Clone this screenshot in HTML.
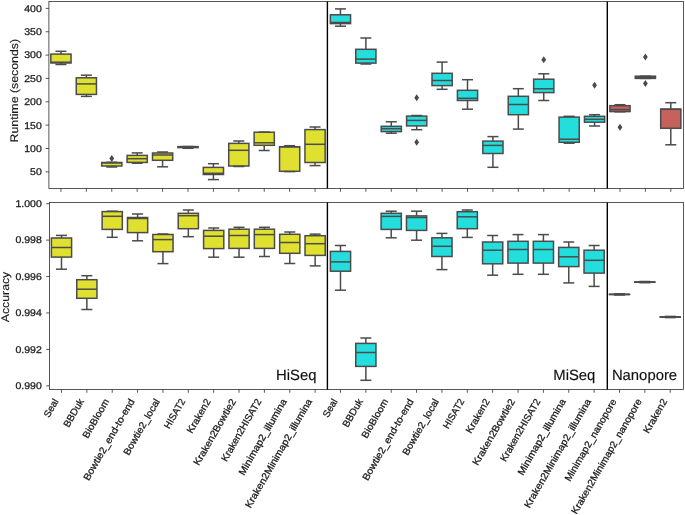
<!DOCTYPE html>
<html><head><meta charset="utf-8"><title>Runtime and accuracy</title>
<style>
html,body{margin:0;padding:0;background:#fff;}
body{width:685px;height:515px;overflow:hidden;font-family:"Liberation Sans",sans-serif;}
svg{display:block;text-rendering:geometricPrecision;filter:blur(0.4px);}
.o{fill:#4b4b4b;stroke:none;}
</style></head>
<body>
<svg width="685" height="515" viewBox="0 0 685 515">
<rect width="685" height="515" fill="#fff"/>
<g stroke="#4b4b4b" stroke-width="1.5" fill="none">
<rect x="50.85" y="54.1" width="20.2" height="8.9" fill="#e0e030"/>
<line x1="60.95" y1="51.3" x2="60.95" y2="54.1"/>
<line x1="60.95" y1="63" x2="60.95" y2="64.5"/>
<line x1="55.45" y1="51.3" x2="66.45" y2="51.3"/>
<line x1="55.45" y1="64.5" x2="66.45" y2="64.5"/>
<line x1="50.85" y1="62.2" x2="71.05" y2="62.2"/>
<rect x="76.26" y="77.8" width="20.2" height="16.6" fill="#e0e030"/>
<line x1="86.36" y1="75.2" x2="86.36" y2="77.8"/>
<line x1="86.36" y1="94.4" x2="86.36" y2="96.4"/>
<line x1="80.86" y1="75.2" x2="91.86" y2="75.2"/>
<line x1="80.86" y1="96.4" x2="91.86" y2="96.4"/>
<line x1="76.26" y1="83.9" x2="96.46" y2="83.9"/>
<rect x="101.67" y="162.5" width="20.2" height="3.5" fill="#e0e030"/>
<line x1="111.77" y1="162.3" x2="111.77" y2="162.5"/>
<line x1="111.77" y1="166" x2="111.77" y2="167"/>
<line x1="106.27" y1="162.3" x2="117.27" y2="162.3"/>
<line x1="106.27" y1="167" x2="117.27" y2="167"/>
<line x1="101.67" y1="162.9" x2="121.87" y2="162.9"/>
<path class="o" d="M111.77 154.9L114.17 158.4L111.77 161.9L109.37 158.4Z"/>
<rect x="127.08" y="155.4" width="20.2" height="7" fill="#e0e030"/>
<line x1="137.18" y1="152.9" x2="137.18" y2="155.4"/>
<line x1="137.18" y1="162.4" x2="137.18" y2="163.2"/>
<line x1="131.68" y1="152.9" x2="142.68" y2="152.9"/>
<line x1="131.68" y1="163.2" x2="142.68" y2="163.2"/>
<line x1="127.08" y1="158.7" x2="147.28" y2="158.7"/>
<rect x="152.49" y="153" width="20.2" height="7.3" fill="#e0e030"/>
<line x1="162.59" y1="152" x2="162.59" y2="153"/>
<line x1="162.59" y1="160.3" x2="162.59" y2="166.8"/>
<line x1="157.09" y1="152" x2="168.09" y2="152"/>
<line x1="157.09" y1="166.8" x2="168.09" y2="166.8"/>
<line x1="152.49" y1="155" x2="172.69" y2="155"/>
<rect x="177.9" y="146.6" width="20.2" height="1" fill="#e0e030"/>
<line x1="188" y1="146.5" x2="188" y2="146.6"/>
<line x1="188" y1="147.6" x2="188" y2="148.3"/>
<line x1="182.5" y1="146.5" x2="193.5" y2="146.5"/>
<line x1="182.5" y1="148.3" x2="193.5" y2="148.3"/>
<line x1="177.9" y1="147" x2="198.1" y2="147"/>
<rect x="203.31" y="167.4" width="20.2" height="7.1" fill="#e0e030"/>
<line x1="213.41" y1="163.7" x2="213.41" y2="167.4"/>
<line x1="213.41" y1="174.5" x2="213.41" y2="179.6"/>
<line x1="207.91" y1="163.7" x2="218.91" y2="163.7"/>
<line x1="207.91" y1="179.6" x2="218.91" y2="179.6"/>
<line x1="203.31" y1="173.3" x2="223.51" y2="173.3"/>
<rect x="228.72" y="143.4" width="20.2" height="22.6" fill="#e0e030"/>
<line x1="238.82" y1="141" x2="238.82" y2="143.4"/>
<line x1="238.82" y1="166" x2="238.82" y2="166.5"/>
<line x1="233.32" y1="141" x2="244.32" y2="141"/>
<line x1="233.32" y1="166.5" x2="244.32" y2="166.5"/>
<line x1="228.72" y1="150.3" x2="248.92" y2="150.3"/>
<rect x="254.13" y="132.2" width="20.2" height="13.1" fill="#e0e030"/>
<line x1="264.23" y1="132.1" x2="264.23" y2="132.2"/>
<line x1="264.23" y1="145.3" x2="264.23" y2="150.5"/>
<line x1="258.73" y1="132.1" x2="269.73" y2="132.1"/>
<line x1="258.73" y1="150.5" x2="269.73" y2="150.5"/>
<line x1="254.13" y1="142.8" x2="274.33" y2="142.8"/>
<rect x="279.54" y="146.7" width="20.2" height="24.6" fill="#e0e030"/>
<line x1="289.64" y1="145.7" x2="289.64" y2="146.7"/>
<line x1="289.64" y1="171.3" x2="289.64" y2="171.6"/>
<line x1="284.14" y1="145.7" x2="295.14" y2="145.7"/>
<line x1="284.14" y1="171.6" x2="295.14" y2="171.6"/>
<line x1="279.54" y1="146.9" x2="299.74" y2="146.9"/>
<rect x="304.95" y="129.6" width="20.2" height="32.9" fill="#e0e030"/>
<line x1="315.05" y1="127" x2="315.05" y2="129.6"/>
<line x1="315.05" y1="162.5" x2="315.05" y2="165.6"/>
<line x1="309.55" y1="127" x2="320.55" y2="127"/>
<line x1="309.55" y1="165.6" x2="320.55" y2="165.6"/>
<line x1="304.95" y1="144.3" x2="325.15" y2="144.3"/>
<rect x="330.36" y="14.8" width="20.2" height="8.8" fill="#24dede"/>
<line x1="340.46" y1="8.9" x2="340.46" y2="14.8"/>
<line x1="340.46" y1="23.6" x2="340.46" y2="26.2"/>
<line x1="334.96" y1="8.9" x2="345.96" y2="8.9"/>
<line x1="334.96" y1="26.2" x2="345.96" y2="26.2"/>
<line x1="330.36" y1="22.5" x2="350.56" y2="22.5"/>
<rect x="355.77" y="49.3" width="20.2" height="13.8" fill="#24dede"/>
<line x1="365.87" y1="38" x2="365.87" y2="49.3"/>
<line x1="365.87" y1="63.1" x2="365.87" y2="64"/>
<line x1="360.37" y1="38" x2="371.37" y2="38"/>
<line x1="360.37" y1="64" x2="371.37" y2="64"/>
<line x1="355.77" y1="59.1" x2="375.97" y2="59.1"/>
<rect x="381.18" y="126.3" width="20.2" height="5.3" fill="#24dede"/>
<line x1="391.28" y1="121.8" x2="391.28" y2="126.3"/>
<line x1="391.28" y1="131.6" x2="391.28" y2="133.2"/>
<line x1="385.78" y1="121.8" x2="396.78" y2="121.8"/>
<line x1="385.78" y1="133.2" x2="396.78" y2="133.2"/>
<line x1="381.18" y1="128.7" x2="401.38" y2="128.7"/>
<rect x="406.59" y="116.1" width="20.2" height="9.8" fill="#24dede"/>
<line x1="416.69" y1="115.5" x2="416.69" y2="116.1"/>
<line x1="416.69" y1="125.9" x2="416.69" y2="129.7"/>
<line x1="411.19" y1="115.5" x2="422.19" y2="115.5"/>
<line x1="411.19" y1="129.7" x2="422.19" y2="129.7"/>
<line x1="406.59" y1="120.4" x2="426.79" y2="120.4"/>
<path class="o" d="M416.69 94.2L419.09 97.7L416.69 101.2L414.29 97.7Z"/>
<path class="o" d="M416.69 138.8L419.09 142.3L416.69 145.8L414.29 142.3Z"/>
<rect x="432" y="73.3" width="20.2" height="12.3" fill="#24dede"/>
<line x1="442.1" y1="62.1" x2="442.1" y2="73.3"/>
<line x1="442.1" y1="85.6" x2="442.1" y2="89.3"/>
<line x1="436.6" y1="62.1" x2="447.6" y2="62.1"/>
<line x1="436.6" y1="89.3" x2="447.6" y2="89.3"/>
<line x1="432" y1="80.5" x2="452.2" y2="80.5"/>
<rect x="457.41" y="90.3" width="20.2" height="10.2" fill="#24dede"/>
<line x1="467.51" y1="79.7" x2="467.51" y2="90.3"/>
<line x1="467.51" y1="100.5" x2="467.51" y2="109.2"/>
<line x1="462.01" y1="79.7" x2="473.01" y2="79.7"/>
<line x1="462.01" y1="109.2" x2="473.01" y2="109.2"/>
<line x1="457.41" y1="98.3" x2="477.61" y2="98.3"/>
<rect x="482.82" y="141.1" width="20.2" height="12.4" fill="#24dede"/>
<line x1="492.92" y1="136.6" x2="492.92" y2="141.1"/>
<line x1="492.92" y1="153.5" x2="492.92" y2="167.3"/>
<line x1="487.42" y1="136.6" x2="498.42" y2="136.6"/>
<line x1="487.42" y1="167.3" x2="498.42" y2="167.3"/>
<line x1="482.82" y1="145.4" x2="503.02" y2="145.4"/>
<rect x="508.23" y="96.3" width="20.2" height="18.4" fill="#24dede"/>
<line x1="518.33" y1="88.7" x2="518.33" y2="96.3"/>
<line x1="518.33" y1="114.7" x2="518.33" y2="129.1"/>
<line x1="512.83" y1="88.7" x2="523.83" y2="88.7"/>
<line x1="512.83" y1="129.1" x2="523.83" y2="129.1"/>
<line x1="508.23" y1="104.5" x2="528.43" y2="104.5"/>
<rect x="533.64" y="79.2" width="20.2" height="13.4" fill="#24dede"/>
<line x1="543.74" y1="73.8" x2="543.74" y2="79.2"/>
<line x1="543.74" y1="92.6" x2="543.74" y2="100.5"/>
<line x1="538.24" y1="73.8" x2="549.24" y2="73.8"/>
<line x1="538.24" y1="100.5" x2="549.24" y2="100.5"/>
<line x1="533.64" y1="88.8" x2="553.84" y2="88.8"/>
<path class="o" d="M543.74 56.3L546.14 59.8L543.74 63.3L541.34 59.8Z"/>
<rect x="559.05" y="117.1" width="20.2" height="25.2" fill="#24dede"/>
<line x1="569.15" y1="116.3" x2="569.15" y2="117.1"/>
<line x1="569.15" y1="142.3" x2="569.15" y2="143.2"/>
<line x1="563.65" y1="116.3" x2="574.65" y2="116.3"/>
<line x1="563.65" y1="143.2" x2="574.65" y2="143.2"/>
<line x1="559.05" y1="139.2" x2="579.25" y2="139.2"/>
<rect x="584.46" y="116.3" width="20.2" height="5.9" fill="#24dede"/>
<line x1="594.56" y1="114.7" x2="594.56" y2="116.3"/>
<line x1="594.56" y1="122.2" x2="594.56" y2="126"/>
<line x1="589.06" y1="114.7" x2="600.06" y2="114.7"/>
<line x1="589.06" y1="126" x2="600.06" y2="126"/>
<line x1="584.46" y1="119.3" x2="604.66" y2="119.3"/>
<path class="o" d="M594.56 81.7L596.96 85.2L594.56 88.7L592.16 85.2Z"/>
<rect x="609.87" y="105.7" width="20.2" height="5.9" fill="#c6625b"/>
<line x1="619.97" y1="104.7" x2="619.97" y2="105.7"/>
<line x1="619.97" y1="111.6" x2="619.97" y2="111.8"/>
<line x1="614.47" y1="104.7" x2="625.47" y2="104.7"/>
<line x1="614.47" y1="111.8" x2="625.47" y2="111.8"/>
<line x1="609.87" y1="109.6" x2="630.07" y2="109.6"/>
<path class="o" d="M619.97 123.8L622.37 127.3L619.97 130.8L617.57 127.3Z"/>
<rect x="635.28" y="76.2" width="20.2" height="2.2" fill="#c6625b"/>
<line x1="645.38" y1="76.2" x2="645.38" y2="76.2"/>
<line x1="645.38" y1="78.4" x2="645.38" y2="78.4"/>
<line x1="639.88" y1="76.2" x2="650.88" y2="76.2"/>
<line x1="639.88" y1="78.4" x2="650.88" y2="78.4"/>
<line x1="635.28" y1="77.3" x2="655.48" y2="77.3"/>
<path class="o" d="M645.38 53.6L647.78 57.1L645.38 60.6L642.98 57.1Z"/>
<path class="o" d="M645.38 80.1L647.78 83.6L645.38 87.1L642.98 83.6Z"/>
<rect x="660.69" y="109.1" width="20.2" height="19.2" fill="#c6625b"/>
<line x1="670.79" y1="102.7" x2="670.79" y2="109.1"/>
<line x1="670.79" y1="128.3" x2="670.79" y2="144.8"/>
<line x1="665.29" y1="102.7" x2="676.29" y2="102.7"/>
<line x1="665.29" y1="144.8" x2="676.29" y2="144.8"/>
<line x1="660.69" y1="109.3" x2="680.89" y2="109.3"/>
<rect x="51.4" y="238" width="20.2" height="19.1" fill="#e0e030"/>
<line x1="61.5" y1="235.4" x2="61.5" y2="238"/>
<line x1="61.5" y1="257.1" x2="61.5" y2="269.2"/>
<line x1="56" y1="235.4" x2="67" y2="235.4"/>
<line x1="56" y1="269.2" x2="67" y2="269.2"/>
<line x1="51.4" y1="247.5" x2="71.6" y2="247.5"/>
<rect x="76.76" y="279.7" width="20.2" height="18.6" fill="#e0e030"/>
<line x1="86.86" y1="275.7" x2="86.86" y2="279.7"/>
<line x1="86.86" y1="298.3" x2="86.86" y2="309.5"/>
<line x1="81.36" y1="275.7" x2="92.36" y2="275.7"/>
<line x1="81.36" y1="309.5" x2="92.36" y2="309.5"/>
<line x1="76.76" y1="289.2" x2="96.96" y2="289.2"/>
<rect x="102.13" y="211.6" width="20.2" height="17.8" fill="#e0e030"/>
<line x1="112.23" y1="211.2" x2="112.23" y2="211.6"/>
<line x1="112.23" y1="229.4" x2="112.23" y2="237.3"/>
<line x1="106.73" y1="211.2" x2="117.73" y2="211.2"/>
<line x1="106.73" y1="237.3" x2="117.73" y2="237.3"/>
<line x1="102.13" y1="216.3" x2="122.33" y2="216.3"/>
<rect x="127.49" y="217.5" width="20.2" height="15.1" fill="#e0e030"/>
<line x1="137.59" y1="214" x2="137.59" y2="217.5"/>
<line x1="137.59" y1="232.6" x2="137.59" y2="240.8"/>
<line x1="132.09" y1="214" x2="143.09" y2="214"/>
<line x1="132.09" y1="240.8" x2="143.09" y2="240.8"/>
<line x1="127.49" y1="218.5" x2="147.69" y2="218.5"/>
<rect x="152.85" y="234.5" width="20.2" height="17.2" fill="#e0e030"/>
<line x1="162.95" y1="234" x2="162.95" y2="234.5"/>
<line x1="162.95" y1="251.7" x2="162.95" y2="263.6"/>
<line x1="157.45" y1="234" x2="168.45" y2="234"/>
<line x1="157.45" y1="263.6" x2="168.45" y2="263.6"/>
<line x1="152.85" y1="239.6" x2="173.05" y2="239.6"/>
<rect x="178.22" y="213.3" width="20.2" height="15.4" fill="#e0e030"/>
<line x1="188.31" y1="210" x2="188.31" y2="213.3"/>
<line x1="188.31" y1="228.7" x2="188.31" y2="236.7"/>
<line x1="182.81" y1="210" x2="193.81" y2="210"/>
<line x1="182.81" y1="236.7" x2="193.81" y2="236.7"/>
<line x1="178.22" y1="215.7" x2="198.41" y2="215.7"/>
<rect x="203.58" y="230.4" width="20.2" height="18.2" fill="#e0e030"/>
<line x1="213.68" y1="228" x2="213.68" y2="230.4"/>
<line x1="213.68" y1="248.6" x2="213.68" y2="257.2"/>
<line x1="208.18" y1="228" x2="219.18" y2="228"/>
<line x1="208.18" y1="257.2" x2="219.18" y2="257.2"/>
<line x1="203.58" y1="236.2" x2="223.78" y2="236.2"/>
<rect x="228.94" y="229.2" width="20.2" height="19.2" fill="#e0e030"/>
<line x1="239.04" y1="227.3" x2="239.04" y2="229.2"/>
<line x1="239.04" y1="248.4" x2="239.04" y2="257.2"/>
<line x1="233.54" y1="227.3" x2="244.54" y2="227.3"/>
<line x1="233.54" y1="257.2" x2="244.54" y2="257.2"/>
<line x1="228.94" y1="235.5" x2="249.14" y2="235.5"/>
<rect x="254.3" y="229.2" width="20.2" height="19.2" fill="#e0e030"/>
<line x1="264.4" y1="227.3" x2="264.4" y2="229.2"/>
<line x1="264.4" y1="248.4" x2="264.4" y2="256.5"/>
<line x1="258.9" y1="227.3" x2="269.9" y2="227.3"/>
<line x1="258.9" y1="256.5" x2="269.9" y2="256.5"/>
<line x1="254.3" y1="234.6" x2="274.5" y2="234.6"/>
<rect x="279.67" y="234.3" width="20.2" height="19" fill="#e0e030"/>
<line x1="289.77" y1="232" x2="289.77" y2="234.3"/>
<line x1="289.77" y1="253.3" x2="289.77" y2="263.5"/>
<line x1="284.27" y1="232" x2="295.27" y2="232"/>
<line x1="284.27" y1="263.5" x2="295.27" y2="263.5"/>
<line x1="279.67" y1="242.5" x2="299.87" y2="242.5"/>
<rect x="305.03" y="235.7" width="20.2" height="19.7" fill="#e0e030"/>
<line x1="315.13" y1="234.1" x2="315.13" y2="235.7"/>
<line x1="315.13" y1="255.4" x2="315.13" y2="265.9"/>
<line x1="309.63" y1="234.1" x2="320.63" y2="234.1"/>
<line x1="309.63" y1="265.9" x2="320.63" y2="265.9"/>
<line x1="305.03" y1="243.7" x2="325.23" y2="243.7"/>
<rect x="330.39" y="251.4" width="20.2" height="19.8" fill="#24dede"/>
<line x1="340.49" y1="245.5" x2="340.49" y2="251.4"/>
<line x1="340.49" y1="271.2" x2="340.49" y2="290.2"/>
<line x1="334.99" y1="245.5" x2="345.99" y2="245.5"/>
<line x1="334.99" y1="290.2" x2="345.99" y2="290.2"/>
<line x1="330.39" y1="261.9" x2="350.59" y2="261.9"/>
<rect x="355.76" y="343.4" width="20.2" height="23" fill="#24dede"/>
<line x1="365.86" y1="338" x2="365.86" y2="343.4"/>
<line x1="365.86" y1="366.4" x2="365.86" y2="380.3"/>
<line x1="360.36" y1="338" x2="371.36" y2="338"/>
<line x1="360.36" y1="380.3" x2="371.36" y2="380.3"/>
<line x1="355.76" y1="352.5" x2="375.96" y2="352.5"/>
<rect x="381.12" y="213.3" width="20.2" height="16.1" fill="#24dede"/>
<line x1="391.22" y1="211.2" x2="391.22" y2="213.3"/>
<line x1="391.22" y1="229.4" x2="391.22" y2="237.8"/>
<line x1="385.72" y1="211.2" x2="396.72" y2="211.2"/>
<line x1="385.72" y1="237.8" x2="396.72" y2="237.8"/>
<line x1="381.12" y1="216.4" x2="401.32" y2="216.4"/>
<rect x="406.48" y="215.9" width="20.2" height="14.5" fill="#24dede"/>
<line x1="416.58" y1="211.2" x2="416.58" y2="215.9"/>
<line x1="416.58" y1="230.4" x2="416.58" y2="240.2"/>
<line x1="411.08" y1="211.2" x2="422.08" y2="211.2"/>
<line x1="411.08" y1="240.2" x2="422.08" y2="240.2"/>
<line x1="406.48" y1="217.5" x2="426.68" y2="217.5"/>
<rect x="431.84" y="237.8" width="20.2" height="18.7" fill="#24dede"/>
<line x1="441.94" y1="233.4" x2="441.94" y2="237.8"/>
<line x1="441.94" y1="256.5" x2="441.94" y2="269.6"/>
<line x1="436.44" y1="233.4" x2="447.44" y2="233.4"/>
<line x1="436.44" y1="269.6" x2="447.44" y2="269.6"/>
<line x1="431.84" y1="246.3" x2="452.04" y2="246.3"/>
<rect x="457.21" y="211.7" width="20.2" height="17" fill="#24dede"/>
<line x1="467.31" y1="210" x2="467.31" y2="211.7"/>
<line x1="467.31" y1="228.7" x2="467.31" y2="237.4"/>
<line x1="461.81" y1="210" x2="472.81" y2="210"/>
<line x1="461.81" y1="237.4" x2="472.81" y2="237.4"/>
<line x1="457.21" y1="216.8" x2="477.41" y2="216.8"/>
<rect x="482.57" y="242" width="20.2" height="21.8" fill="#24dede"/>
<line x1="492.67" y1="235.5" x2="492.67" y2="242"/>
<line x1="492.67" y1="263.8" x2="492.67" y2="275.2"/>
<line x1="487.17" y1="235.5" x2="498.17" y2="235.5"/>
<line x1="487.17" y1="275.2" x2="498.17" y2="275.2"/>
<line x1="482.57" y1="250.2" x2="502.77" y2="250.2"/>
<rect x="507.93" y="241.3" width="20.2" height="21.8" fill="#24dede"/>
<line x1="518.03" y1="234.6" x2="518.03" y2="241.3"/>
<line x1="518.03" y1="263.1" x2="518.03" y2="274.3"/>
<line x1="512.53" y1="234.6" x2="523.53" y2="234.6"/>
<line x1="512.53" y1="274.3" x2="523.53" y2="274.3"/>
<line x1="507.93" y1="249.5" x2="528.13" y2="249.5"/>
<rect x="533.3" y="241.3" width="20.2" height="21.8" fill="#24dede"/>
<line x1="543.4" y1="234.6" x2="543.4" y2="241.3"/>
<line x1="543.4" y1="263.1" x2="543.4" y2="274.3"/>
<line x1="537.9" y1="234.6" x2="548.9" y2="234.6"/>
<line x1="537.9" y1="274.3" x2="548.9" y2="274.3"/>
<line x1="533.3" y1="249.5" x2="553.5" y2="249.5"/>
<rect x="558.66" y="247.4" width="20.2" height="19.2" fill="#24dede"/>
<line x1="568.76" y1="242" x2="568.76" y2="247.4"/>
<line x1="568.76" y1="266.6" x2="568.76" y2="282.9"/>
<line x1="563.26" y1="242" x2="574.26" y2="242"/>
<line x1="563.26" y1="282.9" x2="574.26" y2="282.9"/>
<line x1="558.66" y1="256.8" x2="578.86" y2="256.8"/>
<rect x="584.02" y="250.2" width="20.2" height="22.9" fill="#24dede"/>
<line x1="594.12" y1="245.5" x2="594.12" y2="250.2"/>
<line x1="594.12" y1="273.1" x2="594.12" y2="286.4"/>
<line x1="588.62" y1="245.5" x2="599.62" y2="245.5"/>
<line x1="588.62" y1="286.4" x2="599.62" y2="286.4"/>
<line x1="584.02" y1="260.3" x2="604.22" y2="260.3"/>
<rect x="609.39" y="294.25" width="20.2" height="0.3" fill="#c6625b"/>
<line x1="619.49" y1="293.8" x2="619.49" y2="294.25"/>
<line x1="619.49" y1="294.55" x2="619.49" y2="295"/>
<line x1="613.99" y1="293.8" x2="624.99" y2="293.8"/>
<line x1="613.99" y1="295" x2="624.99" y2="295"/>
<line x1="609.39" y1="294.4" x2="629.59" y2="294.4"/>
<rect x="634.75" y="281.95" width="20.2" height="0.3" fill="#c6625b"/>
<line x1="644.85" y1="281.5" x2="644.85" y2="281.95"/>
<line x1="644.85" y1="282.25" x2="644.85" y2="282.7"/>
<line x1="639.35" y1="281.5" x2="650.35" y2="281.5"/>
<line x1="639.35" y1="282.7" x2="650.35" y2="282.7"/>
<line x1="634.75" y1="282.1" x2="654.95" y2="282.1"/>
<rect x="660.11" y="316.85" width="20.2" height="0.3" fill="#c6625b"/>
<line x1="670.21" y1="316.4" x2="670.21" y2="316.85"/>
<line x1="670.21" y1="317.15" x2="670.21" y2="317.6"/>
<line x1="664.71" y1="316.4" x2="675.71" y2="316.4"/>
<line x1="664.71" y1="317.6" x2="675.71" y2="317.6"/>
<line x1="660.11" y1="317" x2="680.31" y2="317"/>
</g>
<g stroke="#2e2e2e" stroke-width="0.8" fill="none">
<rect x="48.9" y="1.5" width="634.5" height="187"/>
<rect x="49.5" y="202.5" width="633.9" height="187"/>
<line x1="45.6" y1="8.4" x2="48.9" y2="8.4"/>
<line x1="45.6" y1="31.75" x2="48.9" y2="31.75"/>
<line x1="45.6" y1="55.1" x2="48.9" y2="55.1"/>
<line x1="45.6" y1="78.45" x2="48.9" y2="78.45"/>
<line x1="45.6" y1="101.8" x2="48.9" y2="101.8"/>
<line x1="45.6" y1="125.15" x2="48.9" y2="125.15"/>
<line x1="45.6" y1="148.5" x2="48.9" y2="148.5"/>
<line x1="45.6" y1="171.85" x2="48.9" y2="171.85"/>
<line x1="46.2" y1="203.7" x2="49.5" y2="203.7"/>
<line x1="46.2" y1="240.12" x2="49.5" y2="240.12"/>
<line x1="46.2" y1="276.54" x2="49.5" y2="276.54"/>
<line x1="46.2" y1="312.96" x2="49.5" y2="312.96"/>
<line x1="46.2" y1="349.38" x2="49.5" y2="349.38"/>
<line x1="46.2" y1="385.8" x2="49.5" y2="385.8"/>
<line x1="60.95" y1="188.5" x2="60.95" y2="191.8"/>
<line x1="61.5" y1="389.5" x2="61.5" y2="392.8"/>
<line x1="86.36" y1="188.5" x2="86.36" y2="191.8"/>
<line x1="86.86" y1="389.5" x2="86.86" y2="392.8"/>
<line x1="111.77" y1="188.5" x2="111.77" y2="191.8"/>
<line x1="112.23" y1="389.5" x2="112.23" y2="392.8"/>
<line x1="137.18" y1="188.5" x2="137.18" y2="191.8"/>
<line x1="137.59" y1="389.5" x2="137.59" y2="392.8"/>
<line x1="162.59" y1="188.5" x2="162.59" y2="191.8"/>
<line x1="162.95" y1="389.5" x2="162.95" y2="392.8"/>
<line x1="188" y1="188.5" x2="188" y2="191.8"/>
<line x1="188.31" y1="389.5" x2="188.31" y2="392.8"/>
<line x1="213.41" y1="188.5" x2="213.41" y2="191.8"/>
<line x1="213.68" y1="389.5" x2="213.68" y2="392.8"/>
<line x1="238.82" y1="188.5" x2="238.82" y2="191.8"/>
<line x1="239.04" y1="389.5" x2="239.04" y2="392.8"/>
<line x1="264.23" y1="188.5" x2="264.23" y2="191.8"/>
<line x1="264.4" y1="389.5" x2="264.4" y2="392.8"/>
<line x1="289.64" y1="188.5" x2="289.64" y2="191.8"/>
<line x1="289.77" y1="389.5" x2="289.77" y2="392.8"/>
<line x1="315.05" y1="188.5" x2="315.05" y2="191.8"/>
<line x1="315.13" y1="389.5" x2="315.13" y2="392.8"/>
<line x1="340.46" y1="188.5" x2="340.46" y2="191.8"/>
<line x1="340.49" y1="389.5" x2="340.49" y2="392.8"/>
<line x1="365.87" y1="188.5" x2="365.87" y2="191.8"/>
<line x1="365.86" y1="389.5" x2="365.86" y2="392.8"/>
<line x1="391.28" y1="188.5" x2="391.28" y2="191.8"/>
<line x1="391.22" y1="389.5" x2="391.22" y2="392.8"/>
<line x1="416.69" y1="188.5" x2="416.69" y2="191.8"/>
<line x1="416.58" y1="389.5" x2="416.58" y2="392.8"/>
<line x1="442.1" y1="188.5" x2="442.1" y2="191.8"/>
<line x1="441.94" y1="389.5" x2="441.94" y2="392.8"/>
<line x1="467.51" y1="188.5" x2="467.51" y2="191.8"/>
<line x1="467.31" y1="389.5" x2="467.31" y2="392.8"/>
<line x1="492.92" y1="188.5" x2="492.92" y2="191.8"/>
<line x1="492.67" y1="389.5" x2="492.67" y2="392.8"/>
<line x1="518.33" y1="188.5" x2="518.33" y2="191.8"/>
<line x1="518.03" y1="389.5" x2="518.03" y2="392.8"/>
<line x1="543.74" y1="188.5" x2="543.74" y2="191.8"/>
<line x1="543.4" y1="389.5" x2="543.4" y2="392.8"/>
<line x1="569.15" y1="188.5" x2="569.15" y2="191.8"/>
<line x1="568.76" y1="389.5" x2="568.76" y2="392.8"/>
<line x1="594.56" y1="188.5" x2="594.56" y2="191.8"/>
<line x1="594.12" y1="389.5" x2="594.12" y2="392.8"/>
<line x1="619.97" y1="188.5" x2="619.97" y2="191.8"/>
<line x1="619.49" y1="389.5" x2="619.49" y2="392.8"/>
<line x1="645.38" y1="188.5" x2="645.38" y2="191.8"/>
<line x1="644.85" y1="389.5" x2="644.85" y2="392.8"/>
<line x1="670.79" y1="188.5" x2="670.79" y2="191.8"/>
<line x1="670.21" y1="389.5" x2="670.21" y2="392.8"/>
</g>
<g stroke="#000" stroke-width="1.4">
<line x1="327.4" y1="1.5" x2="327.4" y2="188.5"/>
<line x1="327.4" y1="202.5" x2="327.4" y2="389.5"/>
<line x1="607.3" y1="1.5" x2="607.3" y2="188.5"/>
<line x1="607.3" y1="202.5" x2="607.3" y2="389.5"/>
</g>
<g font-family="Liberation Sans, sans-serif" fill="#1a1a1a" stroke="#1a1a1a" stroke-width="0.28" font-size="9.8" text-anchor="end">
<text x="41.75" y="11.75" textLength="17.56" lengthAdjust="spacingAndGlyphs">400</text>
<text x="41.75" y="35.1" textLength="17.56" lengthAdjust="spacingAndGlyphs">350</text>
<text x="41.75" y="58.45" textLength="17.56" lengthAdjust="spacingAndGlyphs">300</text>
<text x="41.75" y="81.8" textLength="17.56" lengthAdjust="spacingAndGlyphs">250</text>
<text x="41.75" y="105.15" textLength="17.56" lengthAdjust="spacingAndGlyphs">200</text>
<text x="41.75" y="128.5" textLength="17.56" lengthAdjust="spacingAndGlyphs">150</text>
<text x="41.75" y="151.85" textLength="17.56" lengthAdjust="spacingAndGlyphs">100</text>
<text x="41.75" y="175.2" textLength="11.71" lengthAdjust="spacingAndGlyphs">50</text>
<text x="41.75" y="207.05" textLength="26.34" lengthAdjust="spacingAndGlyphs">1.000</text>
<text x="41.75" y="243.47" textLength="26.34" lengthAdjust="spacingAndGlyphs">0.998</text>
<text x="41.75" y="279.89" textLength="26.34" lengthAdjust="spacingAndGlyphs">0.996</text>
<text x="41.75" y="316.31" textLength="26.34" lengthAdjust="spacingAndGlyphs">0.994</text>
<text x="41.75" y="352.73" textLength="26.34" lengthAdjust="spacingAndGlyphs">0.992</text>
<text x="41.75" y="389.15" textLength="26.34" lengthAdjust="spacingAndGlyphs">0.990</text>
<text transform="translate(58.8 401.2) rotate(-60)" textLength="19.69" lengthAdjust="spacingAndGlyphs">Seal</text>
<text transform="translate(84.16 401.2) rotate(-60)" textLength="30.87" lengthAdjust="spacingAndGlyphs">BBDuk</text>
<text transform="translate(109.53 401.2) rotate(-60)" textLength="43.58" lengthAdjust="spacingAndGlyphs">BioBloom</text>
<text transform="translate(134.89 401.2) rotate(-60)" textLength="92.45" lengthAdjust="spacingAndGlyphs">Bowtie2_end-to-end</text>
<text transform="translate(160.25 401.2) rotate(-60)" textLength="63.18" lengthAdjust="spacingAndGlyphs">Bowtie2_local</text>
<text transform="translate(185.62 401.2) rotate(-60)" textLength="32.69" lengthAdjust="spacingAndGlyphs">HISAT2</text>
<text transform="translate(210.98 401.2) rotate(-60)" textLength="37.8" lengthAdjust="spacingAndGlyphs">Kraken2</text>
<text transform="translate(236.34 401.2) rotate(-60)" textLength="74.94" lengthAdjust="spacingAndGlyphs">Kraken2Bowtie2</text>
<text transform="translate(261.7 401.2) rotate(-60)" textLength="70.49" lengthAdjust="spacingAndGlyphs">Kraken2HISAT2</text>
<text transform="translate(287.07 401.2) rotate(-60)" textLength="86.26" lengthAdjust="spacingAndGlyphs">Minimap2_illumina</text>
<text transform="translate(312.43 401.2) rotate(-60)" textLength="124.06" lengthAdjust="spacingAndGlyphs">Kraken2Minimap2_illumina</text>
<text transform="translate(337.79 401.2) rotate(-60)" textLength="19.69" lengthAdjust="spacingAndGlyphs">Seal</text>
<text transform="translate(363.16 401.2) rotate(-60)" textLength="30.87" lengthAdjust="spacingAndGlyphs">BBDuk</text>
<text transform="translate(388.52 401.2) rotate(-60)" textLength="43.58" lengthAdjust="spacingAndGlyphs">BioBloom</text>
<text transform="translate(413.88 401.2) rotate(-60)" textLength="92.45" lengthAdjust="spacingAndGlyphs">Bowtie2_end-to-end</text>
<text transform="translate(439.25 401.2) rotate(-60)" textLength="63.18" lengthAdjust="spacingAndGlyphs">Bowtie2_local</text>
<text transform="translate(464.61 401.2) rotate(-60)" textLength="32.69" lengthAdjust="spacingAndGlyphs">HISAT2</text>
<text transform="translate(489.97 401.2) rotate(-60)" textLength="37.8" lengthAdjust="spacingAndGlyphs">Kraken2</text>
<text transform="translate(515.33 401.2) rotate(-60)" textLength="74.94" lengthAdjust="spacingAndGlyphs">Kraken2Bowtie2</text>
<text transform="translate(540.7 401.2) rotate(-60)" textLength="70.49" lengthAdjust="spacingAndGlyphs">Kraken2HISAT2</text>
<text transform="translate(566.06 401.2) rotate(-60)" textLength="86.26" lengthAdjust="spacingAndGlyphs">Minimap2_illumina</text>
<text transform="translate(591.42 401.2) rotate(-60)" textLength="124.06" lengthAdjust="spacingAndGlyphs">Kraken2Minimap2_illumina</text>
<text transform="translate(616.79 401.2) rotate(-60)" textLength="93.41" lengthAdjust="spacingAndGlyphs">Minimap2_nanopore</text>
<text transform="translate(642.15 401.2) rotate(-60)" textLength="131.21" lengthAdjust="spacingAndGlyphs">Kraken2Minimap2_nanopore</text>
<text transform="translate(667.51 401.2) rotate(-60)" textLength="37.8" lengthAdjust="spacingAndGlyphs">Kraken2</text>
</g>
<g font-family="Liberation Sans, sans-serif" fill="#1a1a1a" stroke="#1a1a1a" stroke-width="0.15" font-size="11.05">
<text transform="translate(18.1 142.4) rotate(-90)" textLength="103.45" lengthAdjust="spacingAndGlyphs">Runtime (seconds)</text>
<text transform="translate(9.4 322.2) rotate(-90)" textLength="50.45" lengthAdjust="spacingAndGlyphs">Accuracy</text>
</g>
<g font-family="Liberation Sans, sans-serif" fill="#111" stroke="#111" stroke-width="0.15" font-size="14.85">
<text x="276.1" y="380.0">HiSeq</text>
<text x="553.3" y="380.0">MiSeq</text>
<text x="611.9" y="379.8">Nanopore</text>
</g>
</svg>
</body></html>
